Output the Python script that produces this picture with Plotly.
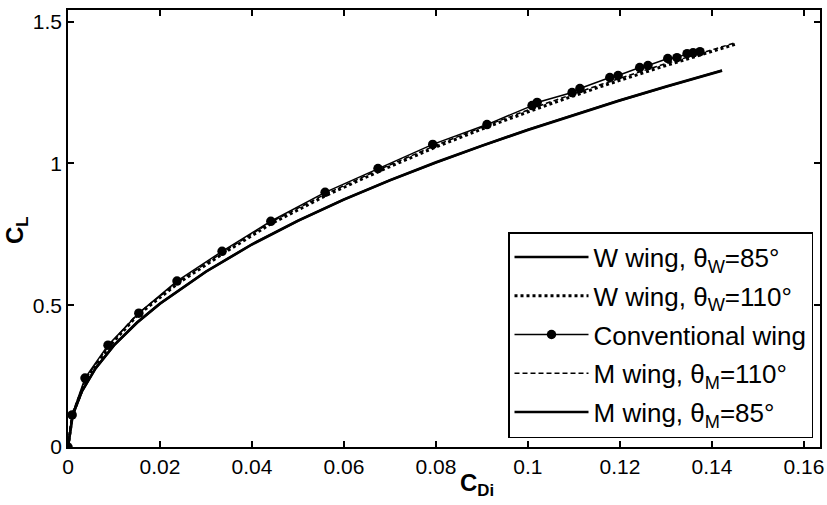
import plotly.graph_objects as go

# Conventional wing (markers)
cdi_conv = [0, 0.0009, 0.0037, 0.0087, 0.0154, 0.0237, 0.0335, 0.0441, 0.0559, 0.0674,
            0.0793, 0.0911, 0.1009, 0.1020, 0.1096, 0.1113, 0.1178, 0.1196, 0.1243,
            0.1261, 0.1304, 0.1324, 0.1346, 0.1359, 0.1374]
cl_conv = [0, 0.113, 0.243, 0.359, 0.472, 0.585, 0.690, 0.796, 0.898, 0.982,
           1.067, 1.137, 1.204, 1.215, 1.250, 1.264, 1.303, 1.310, 1.338,
           1.345, 1.370, 1.373, 1.387, 1.390, 1.394]

# W wing theta_W = 110 (dotted)
cdi_w110 = [0, 0.001, 0.004, 0.009, 0.015, 0.024, 0.034, 0.044, 0.056, 0.068,
            0.080, 0.092, 0.104, 0.116, 0.128, 0.138, 0.145]
cl_w110 = [0, 0.115, 0.240, 0.355, 0.463, 0.578, 0.685, 0.786, 0.886, 0.975,
           1.058, 1.134, 1.205, 1.272, 1.335, 1.385, 1.420]

# M wing theta_M = 110 (dashed)
cdi_m110 = [0, 0.001, 0.004, 0.009, 0.015, 0.024, 0.034, 0.044, 0.056, 0.068,
            0.080, 0.092, 0.104, 0.116, 0.128, 0.138, 0.145]
cl_m110 = [0, 0.118, 0.245, 0.360, 0.468, 0.583, 0.690, 0.792, 0.892, 0.981,
           1.064, 1.140, 1.212, 1.279, 1.342, 1.392, 1.425]

# W wing / M wing theta = 85 (solid, lower)
cdi_85 = [0, 0.001, 0.003, 0.006, 0.010, 0.015, 0.020, 0.030, 0.040, 0.050,
          0.060, 0.070, 0.080, 0.090, 0.100, 0.110, 0.120, 0.130, 0.1422]
cl_w85 = [0, 0.112, 0.195, 0.277, 0.358, 0.438, 0.505, 0.618, 0.714, 0.797,
          0.872, 0.940, 1.003, 1.062, 1.118, 1.171, 1.222, 1.270, 1.327]
cl_m85 = [0, 0.112, 0.196, 0.278, 0.359, 0.439, 0.506, 0.619, 0.715, 0.798,
          0.873, 0.941, 1.004, 1.063, 1.119, 1.172, 1.223, 1.271, 1.328]

x_ticks = [0, 0.02, 0.04, 0.06, 0.08, 0.1, 0.12, 0.14, 0.16]
x_ticklabels = ["0", "0.02", "0.04", "0.06", "0.08", "0.1", "0.12", "0.14", "0.16"]
y_ticks = [0, 0.5, 1, 1.5]
y_ticklabels = ["0", "0.5", "1", "1.5"]

FONT = "Liberation Sans, Arial, sans-serif"

L, R, T, B = 68, 7, 10, 58
PW = 827 - L - R
PH = 505 - T - B

fig = go.Figure()
fig.add_trace(go.Scatter(x=cdi_85, y=cl_w85, mode="lines", name="W wing, θ<sub>W</sub>=85°",
                         line=dict(color="black", width=2.5), legendgroup="a"))
fig.add_trace(go.Scatter(x=cdi_w110, y=cl_w110, mode="lines", name="W wing, θ<sub>W</sub>=110°",
                         line=dict(color="black", width=3, dash="dot"), legendgroup="b"))
fig.add_trace(go.Scatter(x=cdi_conv, y=cl_conv, mode="lines+markers", name="Conventional wing",
                         line=dict(color="black", width=1.5),
                         marker=dict(color="black", size=9.5, symbol="circle"), legendgroup="c"))
fig.add_trace(go.Scatter(x=cdi_m110, y=cl_m110, mode="lines", name="M wing, θ<sub>M</sub>=110°",
                         line=dict(color="black", width=1.5, dash="5px,3px"), legendgroup="d"))
fig.add_trace(go.Scatter(x=cdi_85, y=cl_m85, mode="lines", name="M wing, θ<sub>M</sub>=85°",
                         line=dict(color="black", width=2.5), legendgroup="e"))

axis_common = dict(showgrid=False, zeroline=False, showline=True, linecolor="black",
                   linewidth=1.5, mirror="ticks", ticks="inside", ticklen=6,
                   tickwidth=1.5, tickcolor="black", automargin=False,
                   tickfont=dict(family=FONT, size=21, color="black"))

fig.update_xaxes(range=[0, 0.1635], tickvals=x_ticks, ticktext=x_ticklabels, **axis_common)
fig.update_yaxes(range=[0, 1.541], tickvals=y_ticks, ticktext=y_ticklabels, **axis_common)

fig.add_annotation(text="<b>C<sub>Di</sub></b>", xref="paper", yref="paper",
                   x=(477 - L) / PW, y=-(484 - (T + PH)) / PH, xanchor="center", yanchor="middle",
                   showarrow=False, font=dict(family=FONT, size=24, color="black"))
fig.add_annotation(text="<b>C<sub>L</sub></b>", xref="paper", yref="paper",
                   x=-(L - 17) / PW, y=((T + PH) - 230) / PH, xanchor="center", yanchor="middle",
                   textangle=-90, showarrow=False, font=dict(family=FONT, size=24, color="black"))

fig.update_layout(
    width=827, height=505,
    margin=dict(l=L, r=R, t=T, b=B, autoexpand=False),
    paper_bgcolor="white", plot_bgcolor="white",
    showlegend=True,
    legend=dict(x=(813 - L) / PW, y=((T + PH) - 438) / PH, xanchor="right", yanchor="bottom",
                bgcolor="white", bordercolor="black", borderwidth=1.5,
                font=dict(family=FONT, size=26, color="black"),
                itemwidth=74, tracegroupgap=2, traceorder="grouped"),
)

fig.write_html("out.html", config={"displayModeBar": False},
               post_script="document.body.style.margin='0px';document.body.style.padding='0px';")
